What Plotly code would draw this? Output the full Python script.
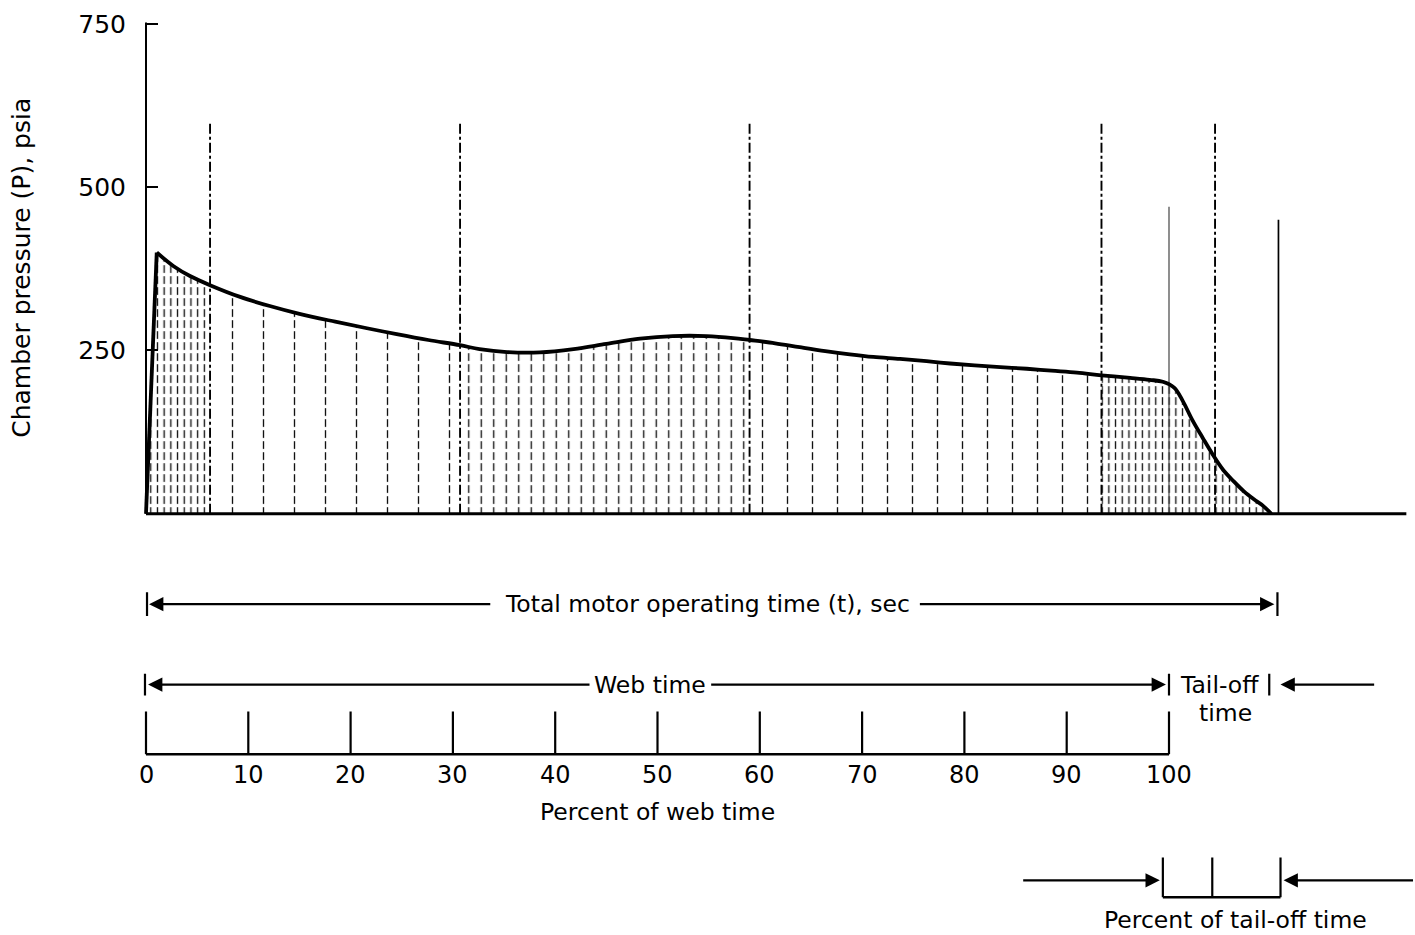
import plotly.graph_objects as go

W, H = 1415, 935

# ---------------- data ----------------
web_pct = [0, 1.05, 2.7, 4.3, 6.26, 9.2, 12.1, 15.0, 18.5, 21.6, 24.5, 27.6,
           30.7, 32.6, 35.3, 38.5, 41.8, 45.0, 48.3, 51.5, 54.8, 57.4, 59.0,
           61.5, 63.9, 66.4, 68.8, 71.1, 73.7, 76.3, 78.6, 81.0, 83.5, 86.1,
           88.5, 91.0, 93.4, 96.2, 98.1, 99.4, 100.5, 101.3, 102.3, 103.3,
           104.3, 105.3, 106.3, 107.3, 108.3, 109.2, 110.0]
pressure = [0, 400, 379, 364, 350, 332, 318, 306, 294, 284, 275, 266,
            258, 252, 247.5, 247, 252, 260, 268, 272, 272, 269, 266,
            261, 255, 249, 244, 240, 237, 233.5, 230, 227, 224.5, 222,
            219, 216, 212, 208, 205, 202, 193, 174, 143, 116,
            90, 67, 50, 34.5, 22, 12, 0]

region_bounds = [0, 6.26, 30.7, 59.0, 93.4, 110.0]   # hatch regions (% web time)
region_spacing_px = [6.7, 31, 12.5, 25, 6.7]          # hatch line spacing
marker_lines_pct = [6.26, 30.7, 59.0, 93.4, 104.5]    # tall dash-dot lines
marker_line_top = 600
web_end = 100
web_end_top = 470
tail_end = 110.7
tail_end_top = 450
axis_end = 123.2

y_ticks = [250, 500, 750]
web_ticks = list(range(0, 101, 10))
tail_ticks = [0, 42, 100]
tail_bracket = [99.4, 110.9]

FONT = "DejaVu Sans"

# ---------------- geometry helpers ----------------
X0_PX, PX_PER_PCT = 146.0, 10.23
BASE_PX, PX_PER_PSI = 511.0, 0.6573
x_range = [-X0_PX / PX_PER_PCT, (W - X0_PX) / PX_PER_PCT]
y_lo, y_hi = -12, 762
def py(P):
    return BASE_PX - PX_PER_PSI * P
y_domain = [(H - py(y_lo)) / H, (H - py(y_hi)) / H]
low_dom_top = 0.44
y2_range = [H, H - low_dom_top * H]   # lower section in page-pixel rows

fig = go.Figure()

# hatched area under the curve
for i in range(len(region_bounds) - 1):
    a = web_pct.index(region_bounds[i])
    b = web_pct.index(region_bounds[i + 1])
    sp = region_spacing_px[i]
    fig.add_trace(go.Scatter(
        x=web_pct[a:b + 1], y=pressure[a:b + 1], mode="lines",
        line=dict(width=0, color="rgba(0,0,0,0)"), fill="tozeroy",
        fillcolor="rgba(0,0,0,0)",
        fillpattern=dict(shape="|", size=sp, solidity=min(0.9, 1.35 / sp),
                         fgcolor="#111", bgcolor="rgba(0,0,0,0)",
                         fillmode="replace"),
        hoverinfo="skip", showlegend=False))
# white horizontal gaps to make hatch lines dashed
fig.add_trace(go.Scatter(
    x=web_pct, y=pressure, mode="lines",
    line=dict(width=0, color="rgba(0,0,0,0)"), fill="tozeroy",
    fillcolor="rgba(0,0,0,0)",
    fillpattern=dict(shape="-", size=11, solidity=0.3, fgcolor="white",
                     bgcolor="rgba(0,0,0,0)", fillmode="replace"),
    hoverinfo="skip", showlegend=False))

# tall dash-dot division lines
for xm in marker_lines_pct:
    fig.add_trace(go.Scatter(x=[xm, xm], y=[0, marker_line_top], mode="lines",
                             line=dict(color="black", width=1.9, dash="10px,3px,3px,3px"),
                             hoverinfo="skip", showlegend=False))
# web end and tail-off end lines
fig.add_trace(go.Scatter(x=[web_end, web_end], y=[0, web_end_top], mode="lines",
                         line=dict(color="#444", width=1.2), hoverinfo="skip", showlegend=False))
fig.add_trace(go.Scatter(x=[tail_end, tail_end], y=[0, tail_end_top], mode="lines",
                         line=dict(color="black", width=1.7), hoverinfo="skip", showlegend=False))

# pressure curve
fig.add_trace(go.Scatter(x=web_pct[:2], y=pressure[:2], mode="lines",
                         line=dict(color="black", width=3.8), hoverinfo="skip", showlegend=False))
fig.add_trace(go.Scatter(x=web_pct[1:], y=pressure[1:], mode="lines",
                         line=dict(color="black", width=3.8, shape="spline", smoothing=1.0),
                         hoverinfo="skip", showlegend=False))
# baseline and y axis line
fig.add_trace(go.Scatter(x=[0, axis_end], y=[0, 0], mode="lines",
                         line=dict(color="black", width=3), hoverinfo="skip", showlegend=False))
fig.add_trace(go.Scatter(x=[0, 0], y=[0, 752], mode="lines",
                         line=dict(color="black", width=2), hoverinfo="skip", showlegend=False))

# ---------------- lower schematic (x: % web time, y2: page-pixel rows) ----------------
shapes = []
annotations = []
def vbar(x, y0, y1, w=2.2):
    shapes.append(dict(type="line", xref="x", yref="y2", x0=x, x1=x, y0=y0, y1=y1,
                       line=dict(color="black", width=w)))
def hline(x0, x1, y, w=2.5):
    shapes.append(dict(type="line", xref="x", yref="y2", x0=x0, x1=x1, y0=y, y1=y,
                       line=dict(color="black", width=w)))
def arrow(x_head, x_tail, y):
    annotations.append(dict(x=x_head, y=y, ax=x_tail, ay=y, xref="x", yref="y2",
                            axref="x", ayref="y2", showarrow=True, arrowhead=2,
                            arrowsize=1.3, arrowwidth=2.2, arrowcolor="black",
                            text="", standoff=0))
def label(x, y, text, size=23.5, xref="x", yref="y2", **kw):
    annotations.append(dict(x=x, y=y, xref=xref, yref=yref, text=text, showarrow=False,
                            font=dict(family=FONT, size=size, color="black"),
                            xanchor="center", yanchor="middle", **kw))

# Total motor operating time row
r1 = 602
vbar(0.1, 590, 614)
arrow(0.3, 33.8, r1)
label(54.9, r1, "Total motor operating time (t), sec")
arrow(tail_end - 0.4, 75.5, r1)
vbar(tail_end - 0.1, 590, 614)

# Web time row
r2 = 683
vbar(-0.1, 672, 694)
arrow(0.2, 43.5, r2)
label(49.3, r2, "Web time")
arrow(web_end - 0.3, 55.1, r2)
vbar(web_end, 672, 694)
label(104.9, r2, "Tail-off")
vbar(109.8, 672, 694)
arrow(110.9, 120.2, r2)
label(105.5, 712, "time")

# percent of web time scale
base = 753
hline(web_ticks[0], web_ticks[-1], base)
for t in web_ticks:
    vbar(t, 710, base)
    label(t, 774, str(t), size=24)
label(50, 811, "Percent of web time")

# percent of tail-off time bracket
bb = 897
tx = [tail_bracket[0] + t / 100 * (tail_bracket[1] - tail_bracket[0]) for t in tail_ticks]
hline(tx[0], tx[-1], bb)
for x in tx:
    vbar(x, 857, bb)
arrow(tx[0] - 0.3, 85.6, 880)
arrow(tx[-1] + 0.3, 124.0, 880)
label(106.5, 920, "Percent of tail-off time")

# y-axis title
label(22 / W, 1 - 263.5 / H, "Chamber pressure (P), psia", size=25,
      xref="paper", yref="paper", textangle=-90)

fig.update_layout(
    width=W, height=H, margin=dict(l=0, r=0, t=0, b=0),
    paper_bgcolor="white", plot_bgcolor="rgba(0,0,0,0)",
    showlegend=False, shapes=shapes, annotations=annotations,
    xaxis=dict(range=x_range, domain=[0, 1], visible=False, fixedrange=True),
    yaxis=dict(range=[y_lo, y_hi], domain=y_domain, anchor="free", position=X0_PX / W,
               showline=False, showgrid=False, zeroline=False,
               tickvals=y_ticks, ticktext=[str(v) for v in y_ticks],
               ticks="inside", ticklen=11, tickwidth=2, tickcolor="black",
               ticklabelstandoff=20,
               tickfont=dict(family=FONT, size=25, color="black")),
    yaxis2=dict(range=y2_range, domain=[0, low_dom_top], anchor="x", visible=False,
                showgrid=False, zeroline=False),
)

# invisible trace to instantiate the lower subplot
fig.add_trace(go.Scatter(x=[0], y=[800], xaxis="x", yaxis="y2", mode="markers",
                         marker=dict(opacity=0), hoverinfo="skip", showlegend=False))

fig.write_html("out.html")
